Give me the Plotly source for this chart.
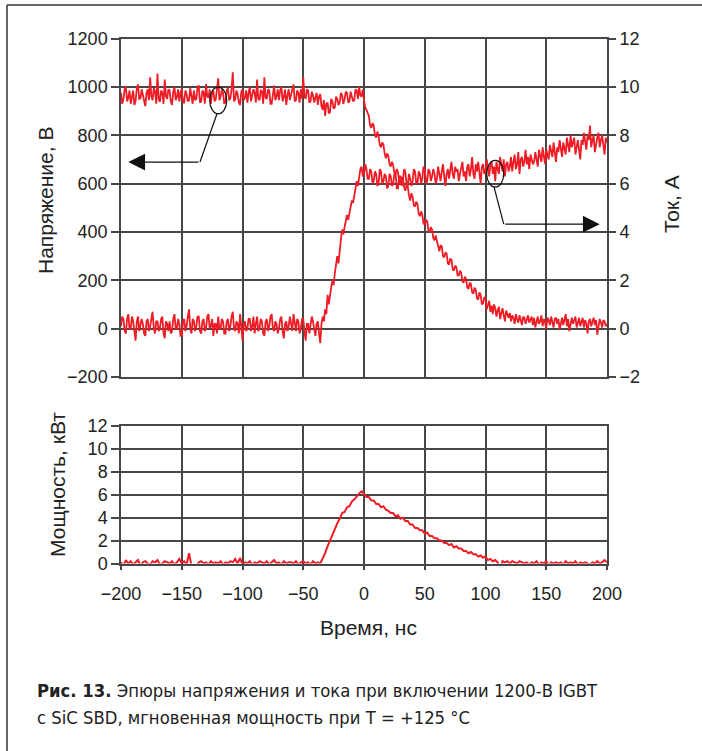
import plotly.graph_objects as go

# ---------------- data ----------------
time_ns = list(range(-200, 201))          # 1 ns samples for voltage & current
time_ns_p = list(range(-200, 201, 2))     # 2 ns samples for power

voltage_v = [
    975, 930, 948, 990, 1002, 940, 955, 985, 930, 970, 985, 925, 940, 995, 1010, 950, 952, 990, 968, 935,
    920, 975, 990, 945, 1040, 960, 945, 995, 980, 930, 1055, 950, 938, 985, 975, 930, 1030, 960, 950, 990,
    985, 940, 925, 980, 1000, 945, 958, 990, 940, 975, 992, 935, 935, 985, 970, 940, 945, 995, 962, 930,
    985, 945, 950, 1000, 1005, 935, 940, 985, 978, 930, 1012, 960, 955, 990, 930, 975, 985, 940, 948, 1000,
    1035, 945, 960, 990, 975, 930, 938, 985, 995, 945, 952, 990, 1060, 940, 948, 985, 970, 935, 925, 980,
    990, 945, 955, 985, 935, 975, 1000, 940, 960, 990, 975, 935, 1030, 950, 945, 985, 982, 930, 1040, 955,
    950, 990, 985, 930, 930, 975, 1005, 945, 960, 990, 945, 985, 1000, 940, 958, 990, 925, 965, 990, 945,
    962, 990, 1010, 940, 945, 985, 975, 935, 990, 950, 1040, 960, 950, 990, 985, 935, 940, 980, 965, 935,
    955, 975, 925, 960, 970, 920, 905, 945, 880, 930, 935, 890, 895, 950, 940, 910, 915, 960, 950, 925,
    935, 975, 965, 930, 948, 980, 975, 935, 940, 980, 960, 940, 945, 990, 985, 950, 1000, 965, 960, 990,
    945, 915, 905, 890, 880, 840, 830, 850, 840, 800, 790, 815, 795, 760, 750, 770, 760, 725, 705, 725,
    715, 680, 670, 690, 675, 645, 640, 660, 645, 610, 600, 625, 625, 585, 570, 595, 590, 550, 530, 560,
    545, 510, 505, 525, 515, 475, 465, 485, 470, 435, 430, 450, 445, 405, 400, 420, 410, 375, 365, 385,
    360, 330, 320, 345, 340, 300, 295, 315, 310, 270, 265, 290, 285, 245, 240, 260, 255, 220, 220, 240,
    230, 195, 190, 215, 205, 170, 165, 190, 185, 150, 145, 170, 160, 125, 120, 150, 140, 100, 105, 130,
    125, 80, 100, 115, 70, 95, 60, 100, 85, 50, 75, 90, 40, 70, 85, 55, 30, 75, 60, 45,
    65, 30, 55, 45, 20, 60, 40, 25, 55, 35, 15, 50, 45, 20, 40, 55, 25, 35, 50, 15,
    45, 5, 35, 50, 20, 30, 55, 10, 40, 25, 0, 45, 35, 15, 50, 30, 5, 40, 45, 20,
    40, -5, 30, 45, 15, 35, 60, 10, 40, -10, 25, 45, 20, 35, 50, 5, 30, 45, 10, 35,
    45, 5, 35, 20, -20, 30, 40, 10, 25, 45, 15, 35, -25, 20, 40, 25, 5, 35, 30, 10,
    20,
]

current_a = [
    0.1, 0.5, 0.4, -0.1, -0.2, 0.4, 0.6, 0.0, 0.0, 0.5, 0.3, -0.2, -0.5, 0.3, 0.5, -0.1, 0.1, 0.4, 0.2, -0.2,
    -0.3, 0.3, 0.4, -0.1, 0.1, 0.5, 0.7, 0.0, -0.2, 0.3, 0.3, -0.1, 0.0, 0.4, 0.5, -0.2, -0.4, 0.3, 0.2, -0.1,
    0.3, -0.2, -0.1, 0.4, 0.6, 0.0, 0.0, 0.4, 0.2, -0.3, -0.3, 0.3, 0.4, -0.1, 0.1, 0.5, 0.8, 0.0, -0.2, 0.4,
    0.3, -0.1, 0.1, 0.5, 0.5, -0.1, -0.2, 0.3, 0.4, -0.1, 0.0, 0.5, 0.6, 0.0, 0.1, 0.4, -0.3, 0.2, 0.2, -0.2,
    0.5, 0.0, 0.0, 0.4, 0.3, -0.2, -0.2, 0.3, 0.4, -0.1, 0.1, 0.5, 0.7, 0.0, -0.1, 0.3, 0.2, -0.2, 0.6, 0.1,
    -0.5, 0.2, 0.3, -0.1, 0.0, 0.4, 0.4, -0.1, 0.1, 0.5, -0.2, 0.2, 0.5, -0.1, 0.0, 0.4, 0.3, -0.2, -0.3, 0.3,
    0.4, -0.1, 0.1, 0.5, 0.6, 0.0, -0.1, 0.3, 0.2, -0.2, 0.0, 0.4, 0.5, -0.1, -0.4, 0.2, 0.3, -0.1, 0.1, 0.5,
    0.2, -0.1, 0.6, 0.1, -0.1, 0.4, 0.3, -0.2, 0.0, 0.4, 0.4, -0.1, -0.5, 0.2, 0.2, -0.2, 0.1, 0.5, 0.3, -0.1,
    -0.3, 0.2, 0.3, -0.2, -0.6, 0.2, 0.5, 0.3, 0.8, 0.6, 1.4, 1.0, 1.5, 1.7, 2.0, 1.8, 2.3, 2.6, 3.0, 2.7,
    3.3, 3.7, 4.1, 3.9, 4.2, 4.5, 4.7, 4.5, 4.8, 5.1, 5.3, 5.2, 5.5, 5.9, 6.1, 5.9, 6.3, 6.6, 6.7, 6.3,
    6.4, 6.8, 6.6, 6.2, 6.2, 6.6, 6.5, 6.0, 6.1, 6.5, 6.4, 5.9, 6.0, 6.6, 6.5, 6.0, 6.1, 6.4, 6.3, 5.8,
    5.9, 6.4, 6.3, 5.9, 6.0, 6.4, 6.4, 5.8, 5.8, 6.3, 6.3, 5.9, 6.1, 6.6, 6.5, 6.0, 5.9, 6.4, 6.2, 5.9,
    6.1, 6.6, 6.5, 6.0, 6.0, 6.5, 6.4, 6.0, 6.2, 6.7, 6.6, 6.0, 6.1, 6.6, 6.5, 6.1, 6.3, 6.6, 6.4, 6.0,
    6.2, 6.7, 6.4, 6.1, 6.5, 6.8, 6.3, 5.9, 6.4, 6.6, 6.2, 6.5, 6.9, 6.4, 6.2, 6.7, 6.5, 6.6, 6.1, 6.4,
    6.6, 6.9, 6.3, 6.5, 6.1, 6.7, 6.8, 6.3, 6.6, 7.1, 6.4, 6.2, 6.8, 6.5, 6.9, 6.3, 6.0, 6.7, 6.8, 6.4,
    6.5, 7.0, 6.6, 6.3, 6.8, 6.9, 6.4, 6.7, 6.1, 6.9, 6.6, 6.4, 7.1, 6.8, 6.5, 7.0, 6.3, 6.8, 6.9, 6.5,
    6.7, 7.1, 6.5, 6.9, 7.2, 6.6, 6.8, 7.3, 6.4, 7.0, 7.1, 6.7, 6.9, 7.4, 6.8, 7.1, 6.6, 7.2, 7.0, 6.8,
    6.9, 7.3, 7.0, 6.7, 7.4, 7.2, 6.9, 7.5, 7.1, 6.8, 7.4, 7.2, 7.0, 7.6, 7.3, 7.1, 7.7, 7.2, 6.9, 7.5,
    7.3, 7.8, 7.4, 7.1, 7.7, 7.5, 7.2, 7.9, 7.6, 7.3, 8.0, 7.5, 7.7, 7.9, 7.2, 7.6, 7.8, 7.4, 7.0, 7.8,
    7.6, 8.1, 7.7, 7.4, 8.0, 7.8, 8.4, 7.5, 7.8, 8.0, 7.3, 7.7, 7.9, 8.1, 7.5, 7.8, 8.0, 7.6, 7.2, 7.9,
    7.7,
]

power_kw = [
    0.1, -0.2, 0.3, 0.0, 0.2, -0.1, 0.1, 0.3, -0.2, 0.1,
    0.2, 0.0, -0.1, 0.2, 0.1, 0.3, -0.1, 0.0, 0.2, 0.1,
    0.0, 0.2, -0.1, 0.1, 0.4, 0.0, 0.2, -0.1, 0.9, -0.2,
    -0.6, -0.3, 0.1, 0.2, 0.0, 0.1, -0.1, 0.2, 0.0, 0.1,
    0.0, 0.2, -0.1, 0.1, 0.0, 0.2, 0.1, 0.4, 0.0, 0.5,
    -0.1, 0.1, 0.0, 0.2, -0.1, 0.1, 0.0, 0.2, 0.1, 0.0,
    0.2, -0.1, 0.1, 0.3, 0.0, 0.1, -0.1, 0.2, 0.0, 0.1,
    0.1, 0.0, 0.2, -0.1, 0.1, 0.2, 0.0, 0.1, -0.1, 0.2,
    0.0, 0.1, 0.0, 0.4, 0.9, 1.5, 2.0, 2.6, 3.0, 3.5,
    3.9, 4.4, 4.5, 4.9, 5.0, 5.4, 5.6, 5.9, 6.1, 6.3,
    6.1, 5.8, 5.8, 5.5, 5.5, 5.2, 5.2, 4.9, 5.0, 4.7,
    4.6, 4.4, 4.4, 4.1, 4.2, 3.9, 4.0, 3.7, 3.7, 3.4,
    3.4, 3.1, 3.1, 2.9, 2.9, 2.6, 2.7, 2.4, 2.4, 2.2,
    2.2, 2.0, 2.0, 1.8, 1.8, 1.6, 1.7, 1.4, 1.5, 1.3,
    1.3, 1.1, 1.1, 0.9, 1.0, 0.8, 0.8, 0.6, 0.7, 0.5,
    0.6, 0.3, 0.4, 0.2, 0.3, 0.1, -0.6, 0.2, 0.1, 0.2,
    0.0, 0.2, 0.1, 0.0, 0.2, 0.1, 0.0, 0.1, -0.1, 0.1,
    0.0, 0.2, -0.1, 0.1, 0.0, 0.2, -0.2, 0.1, 0.0, 0.1,
    0.0, 0.1, -0.1, 0.2, 0.0, 0.1, 0.0, 0.2, -0.1, 0.1,
    0.0, 0.1, 0.0, -0.1, 0.1, 0.0, 0.2, 0.0, 0.1, 0.3,
    0.1,
]

x_ticks = [-200, -150, -100, -50, 0, 50, 100, 150, 200]
x_tick_text = ["−200", "−150", "−100", "−50", "0", "50", "100", "150", "200"]
v_ticks = [-200, 0, 200, 400, 600, 800, 1000, 1200]
v_tick_text = ["−200", "0", "200", "400", "600", "800", "1000", "1200"]
i_ticks = [-2, 0, 2, 4, 6, 8, 10, 12]
i_tick_text = ["−2", "0", "2", "4", "6", "8", "10", "12"]
p_ticks = [0, 2, 4, 6, 8, 10, 12]

# ---------------- layout helpers ----------------
W, H = 702, 751
def px(x):
    return x / W
def py(y):
    return 1 - y / H

RED = "#ee1c25"
GRID = "#474747"
FONT = "Liberation Sans, Arial, sans-serif"
CAPFONT = "Liberation Sans Narrow, Arial Narrow, DejaVu Sans Condensed, sans-serif"
TICKFONT = dict(family=FONT, size=18, color="#222")
LW = 1.8

fig = go.Figure()
fig.add_trace(go.Scatter(x=time_ns, y=voltage_v, mode="lines",
                         line=dict(color=RED, width=LW), xaxis="x", yaxis="y"))
fig.add_trace(go.Scatter(x=time_ns, y=current_a, mode="lines",
                         line=dict(color=RED, width=LW), xaxis="x", yaxis="y2"))
fig.add_trace(go.Scatter(x=time_ns_p, y=power_kw, mode="lines",
                         line=dict(color=RED, width=2.0), xaxis="x2", yaxis="y3"))

xdom = [px(121), px(607)]
common_x = dict(range=[-200, 200], tickvals=x_ticks, showgrid=True, gridcolor=GRID,
                gridwidth=1.5, showline=True, mirror=True, linecolor=GRID, linewidth=1.5,
                zeroline=False, domain=xdom, tickfont=TICKFONT, automargin=False)
common_y = dict(showgrid=True, gridcolor=GRID, gridwidth=1.5, showline=True, mirror=True,
                linecolor=GRID, linewidth=1.5, zeroline=False, ticks="outside", ticklen=8,
                tickwidth=1.5, tickcolor=GRID, tickfont=TICKFONT, automargin=False)

fig.update_layout(
    width=W, height=H, autosize=False,
    margin=dict(l=0, r=0, t=0, b=0, pad=0, autoexpand=False),
    paper_bgcolor="white", plot_bgcolor="white",
    showlegend=False,
    font=dict(family=FONT, color="#222"),
    xaxis=dict(**common_x, anchor="y", showticklabels=False, ticks=""),
    yaxis=dict(**common_y, domain=[py(377), py(38.5)], range=[-200, 1200],
               tickvals=v_ticks, ticktext=v_tick_text),
    yaxis2=dict(overlaying="y", side="right", anchor="x", range=[-2, 12],
                tickvals=i_ticks, ticktext=i_tick_text,
                showgrid=False, zeroline=False, ticks="outside", ticklen=8,
                tickwidth=1.5, tickcolor=GRID, tickfont=TICKFONT, showline=False,
                automargin=False),
    xaxis2=dict(**common_x, anchor="y3", ticks="outside", ticklen=5, tickwidth=1.5,
                tickcolor=GRID, ticktext=x_tick_text, ticklabelstandoff=8),
    yaxis3=dict(**common_y, anchor="x2", domain=[py(563.5), py(426)], range=[0, 12],
                tickvals=p_ticks),
)

TITLEFONT = dict(family=FONT, size=21, color="#222")
CAPTIONFONT = dict(family=CAPFONT, size=18.3, color="#222")
annotations = [
    dict(text="Напряжение, В", x=px(45), y=py(200), xref="paper", yref="paper",
         textangle=-90, showarrow=False, font=TITLEFONT, xanchor="center", yanchor="middle"),
    dict(text="Ток, А", x=px(672), y=py(204), xref="paper", yref="paper",
         textangle=-90, showarrow=False, font=TITLEFONT, xanchor="center", yanchor="middle"),
    dict(text="Мощность, кВт", x=px(57), y=py(485), xref="paper", yref="paper",
         textangle=-90, showarrow=False, font=TITLEFONT, xanchor="center", yanchor="middle"),
    dict(text="Время, нс", x=px(368), y=py(627), xref="paper", yref="paper",
         showarrow=False, font=TITLEFONT, xanchor="center", yanchor="middle"),
    dict(text="<b>Рис. 13.</b> Эпюры напряжения и тока при включении 1200‑В IGBT",
         x=px(35), y=py(690), xref="paper", yref="paper", showarrow=False,
         xanchor="left", yanchor="middle", font=CAPTIONFONT),
    dict(text="с SiC SBD, мгновенная мощность при Т = +125 °С",
         x=px(35), y=py(717), xref="paper", yref="paper", showarrow=False,
         xanchor="left", yanchor="middle", font=CAPTIONFONT),
    # arrow heads of the callouts
    dict(x=-194, y=689, ax=-135, ay=689, xref="x", yref="y", axref="x", ayref="y",
         text="", showarrow=True, arrowhead=2, arrowsize=2.8, arrowwidth=1.2, arrowcolor="#111"),
    dict(x=194, y=432, ax=115, ay=432, xref="x", yref="y", axref="x", ayref="y",
         text="", showarrow=True, arrowhead=2, arrowsize=2.8, arrowwidth=1.2, arrowcolor="#111"),
]
fig.update_layout(annotations=annotations)

shapes = [
    # outer frame (top and left)
    dict(type="line", xref="paper", yref="paper", x0=px(7), y0=py(5), x1=1, y1=py(5),
         line=dict(color="#333", width=1.5)),
    dict(type="line", xref="paper", yref="paper", x0=px(7), y0=py(5), x1=px(7), y1=0,
         line=dict(color="#333", width=1.5)),
    # callout ellipses and leaders
    dict(type="circle", xref="x", yref="y", x0=-127, x1=-113, y0=889, y1=999,
         line=dict(color="#111", width=1.2)),
    dict(type="path", xref="x", yref="y", path="M -121 889 L -135 689",
         line=dict(color="#111", width=1.2)),
    dict(type="circle", xref="x", yref="y", x0=101, x1=115, y0=586, y1=696,
         line=dict(color="#111", width=1.2)),
    dict(type="path", xref="x", yref="y", path="M 107 586 L 115 432",
         line=dict(color="#111", width=1.2)),
]
fig.update_layout(shapes=shapes)

fig.write_html("out.html")
